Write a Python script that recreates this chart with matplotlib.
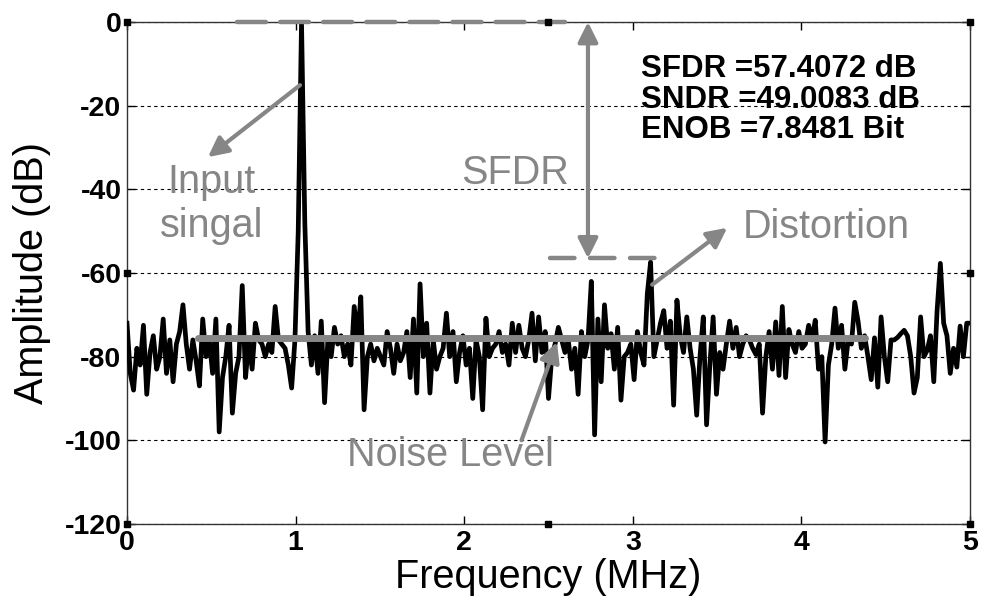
import numpy as np
import matplotlib
matplotlib.use("Agg")
import matplotlib.pyplot as plt

# ---- data ----
freq_max = 5.0
amplitude_db = [
    -72, -84, -88, -78, -82, -72.5, -89, -79, -75, -83,
    -80, -71, -84, -76, -86, -77, -74, -67.6, -77, -83,
    -76, -81, -87, -71, -80, -76, -84, -71, -98, -85,
    -80, -72.5, -93.5, -84, -80, -63, -85, -76, -83, -72,
    -76, -77, -80, -77, -79, -68, -76, -77, -78, -82,
    -87.5, -76, -50, 0, -48, -74, -82, -75, -84, -71.5,
    -91, -76, -80, -73, -77, -75, -80, -77, -82, -68,
    -76, -65.7, -92.7, -80, -77, -81, -78, -80, -82, -74,
    -78, -84, -77, -81, -79, -74, -85, -71, -88.7, -62.6,
    -80, -72, -88.7, -76, -83, -80, -78, -69.6, -80, -74,
    -86, -79, -75, -82, -78, -90, -76, -80, -92.7, -70.8,
    -80, -78, -77, -74, -79, -77, -82, -72, -79, -72.5,
    -78, -80, -76, -69.6, -81, -70.5, -79, -74, -90, -80,
    -77, -73, -76, -79, -76, -83, -78, -89, -74, -80,
    -76, -62, -98.7, -71, -86, -67.6, -78, -74.5, -83, -73,
    -90.4, -80, -79, -77, -85.5, -74, -79, -82, -65, -57.4,
    -80, -76, -72, -69, -78, -71.5, -91.6, -66.5, -75, -79,
    -70.5, -78, -83, -94, -80, -70.5, -96.3, -82, -70.5, -89,
    -79, -83, -77, -71.5, -78, -73, -80, -77, -75, -76,
    -78, -79.5, -77, -93.5, -80, -74, -83, -71.7, -84.5, -68,
    -85, -73.5, -77, -79, -74, -78, -77, -72.5, -76, -71.3,
    -83, -80, -100.4, -82, -77, -68.4, -78, -72.5, -83, -76,
    -77, -67, -71.5, -78, -75, -80, -85.5, -75.5, -87.3, -70.5,
    -80, -86, -76, -76, -75.4, -74.5, -73.7, -75, -80, -88.7,
    -85, -70.5, -80, -78.5, -75, -86, -69, -57.7, -72, -75,
    -84, -78, -82.5, -72.7, -80, -72, -72,
]
freq_mhz = np.linspace(0, freq_max, len(amplitude_db))

x_ticks = [0, 1, 2, 3, 4, 5]
y_ticks = [0, -20, -40, -60, -80, -100, -120]

sfdr_db = 57.4072
sndr_db = 49.0083
enob_bit = 7.8481
noise_level_db = -75.5
signal_db = 0.0
distortion_db = -56.5

GRAY = "#868686"
plt.rcParams["font.family"] = ["Liberation Sans", "DejaVu Sans"]

fig = plt.figure(figsize=(9.89, 6.08), dpi=100)
ax = fig.add_axes([0.1284, 0.1382, 0.8524, 0.8256])

ax.plot(freq_mhz, amplitude_db, color="black", lw=3.4, solid_joinstyle="round", zorder=3)

ax.set_xlim(0, 5)
ax.set_ylim(-120, 0)
ax.set_xticks(x_ticks)
ax.set_yticks(y_ticks)
ax.set_xticklabels([str(t) for t in x_ticks], fontsize=20.5, fontweight="bold")
ax.set_yticklabels([str(t) for t in y_ticks], fontsize=20.5, fontweight="bold")
ax.tick_params(direction="in", length=6, width=1, top=True, right=True, pad=4)
ax.yaxis.grid(True, linestyle=(0, (3, 3)), color="black", lw=0.8)
for s in ax.spines.values():
    s.set_linewidth(1.0)
    s.set_color("#333333")

ax.set_xlabel("Frequency (MHz)", fontsize=28.5, labelpad=2)
ax.set_ylabel("Amplitude (dB)", fontsize=28.5, labelpad=10)

# selection handles (small squares)
for (hx, hy) in [(0, 1), (0, 0.5), (0, 0), (0.5, 1), (0.5, 0), (1, 1), (1, 0.5), (1, 0)]:
    ax.plot([hx], [hy], marker="s", ms=5, color="black", transform=ax.transAxes,
            clip_on=False, zorder=6)

# dashed reference lines
ax.plot([0.65, 2.6], [signal_db, signal_db], color=GRAY, lw=3.2, ls=(0, (6.5, 3.2)),
        dash_capstyle="round", clip_on=False, zorder=4)
ax.plot([2.51, 3.14], [distortion_db, distortion_db], color=GRAY, lw=3.2, ls=(0, (5.5, 3.5)),
        dash_capstyle="round", zorder=4)

# noise level line
ax.plot([0.42, 4.38], [noise_level_db, noise_level_db], color=GRAY, lw=5.0,
        solid_capstyle="round", zorder=4)

arrow_kw = dict(arrowstyle="-|>", color=GRAY, lw=3, mutation_scale=30, shrinkA=0, shrinkB=0)

# SFDR double arrow
ax.annotate("", xy=(2.734, distortion_db), xytext=(2.734, signal_db),
            arrowprops=dict(arrowstyle="<|-|>", color=GRAY, lw=3, mutation_scale=30,
                            shrinkA=0, shrinkB=0), zorder=5)
ax.text(2.3, -36, "SFDR", color=GRAY, fontsize=28.5, ha="center", va="center")

# input signal arrow
ax.annotate("", xy=(0.48, -32.3), xytext=(1.026, -15.1), arrowprops=arrow_kw, zorder=5)
ax.text(0.5, -43.5, "Input\nsingal", color=GRAY, fontsize=28.5, ha="center", va="center",
        linespacing=1.22)

# distortion arrow
ax.annotate("", xy=(3.56, -49.2), xytext=(3.115, -62.8), arrowprops=arrow_kw, zorder=5)
ax.text(3.65, -49, "Distortion", color=GRAY, fontsize=28.5, ha="left", va="center")

# noise level arrow
ax.annotate("", xy=(2.55, -76.5), xytext=(2.34, -100), arrowprops=arrow_kw, zorder=5)
ax.text(1.92, -103.5, "Noise Level", color=GRAY, fontsize=28.5, ha="center", va="center")

# metrics
ax.text(3.05, -11.2, f"SFDR ={sfdr_db:.4f} dB", fontsize=22.5, fontweight="bold",
        ha="left", va="center", zorder=7)
ax.text(3.05, -18.6, f"SNDR ={sndr_db:.4f} dB", fontsize=22.5, fontweight="bold",
        ha="left", va="center", zorder=7)
ax.text(3.05, -25.9, f"ENOB ={enob_bit:.4f} Bit", fontsize=22.5, fontweight="bold",
        ha="left", va="center", zorder=7)

fig.savefig("out.png", dpi=100)
